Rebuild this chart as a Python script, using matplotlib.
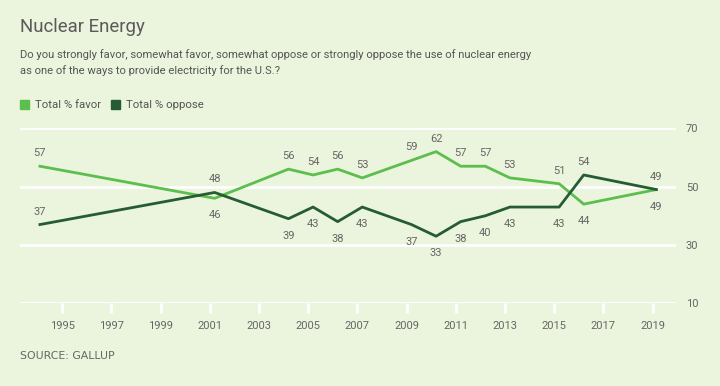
import matplotlib.pyplot as plt

plt.rcParams['font.family'] = ['Roboto', 'DejaVu Sans']

# survey dates (decimal years) and results
anos = [1994.1, 2001.2, 2004.2, 2005.2, 2006.2, 2007.2, 2009.2, 2010.2,
        2011.2, 2012.2, 2013.2, 2015.2, 2016.2, 2019.15]
favor = [57, 46, 56, 54, 56, 53, 59, 62, 57, 57, 53, 51, 44, 49]
oppose = [37, 48, 39, 43, 38, 43, 37, 33, 38, 40, 43, 43, 54, 49]
# True = rotulo acima do ponto
favor_acima = [True, False, True, True, True, True, True, True, True, True, True, True, False, False]
oppose_acima = [True, True, False, False, False, False, False, False, False, False, False, False, True, True]

xticks = list(range(1995, 2020, 2))
yticks = [10, 30, 50, 70]

fundo = '#ebf4dc'
cor_favor = '#5cbf4d'
cor_oppose = '#265c33'
cinza = '#666666'

fig = plt.figure(figsize=(7.2, 3.86), dpi=100, facecolor=fundo)
ax = fig.add_axes([20/720, 82.7/386, 656/720, 175/386], facecolor=fundo)

for y in yticks:
    ax.axhline(y, color='white', lw=2, zorder=1)

ax.plot(anos, favor, color=cor_favor, lw=2, zorder=3)
ax.plot(anos, oppose, color=cor_oppose, lw=2, zorder=3)

def rotulos(vals, acima):
    for x, v, a in zip(anos, vals, acima):
        dy = 13 if a else -17
        ax.annotate(str(v), (x, v), xytext=(0, dy*0.72), textcoords='offset points',
                    ha='center', va='center', fontsize=8, color=cinza)

rotulos(favor, favor_acima)
rotulos(oppose, oppose_acima)

ax.set_xlim(1993.29, 2019.95)
ax.set_ylim(10, 70)
ax.set_xticks(xticks)
ax.set_yticks(yticks)
ax.yaxis.tick_right()
ax.tick_params(axis='y', length=0, pad=7, labelsize=8, labelcolor=cinza)
ax.tick_params(axis='x', length=7, width=2, color='white', pad=6, labelsize=8, labelcolor=cinza)
for s in ax.spines.values():
    s.set_visible(False)

fig.text(20/720, 1 - 27/386, 'Nuclear Energy', fontsize=13.4, color='#5a5a5a',
         va='center')
fig.text(20/720, 1 - 55/386, 'Do you strongly favor, somewhat favor, somewhat oppose or strongly oppose the use of nuclear energy',
         fontsize=8.1, color='#555555', va='center')
fig.text(20/720, 1 - 71/386, 'as one of the ways to provide electricity for the U.S.?',
         fontsize=8.1, color='#555555', va='center')

# legenda
fig.patches.append(plt.Rectangle((20/720, 1 - 109/386), 9/720, 9/386, color=cor_favor,
                                 transform=fig.transFigure, figure=fig))
fig.text(35/720, 1 - 104.5/386, 'Total % favor', fontsize=8.2, color='#555555', va='center')
fig.patches.append(plt.Rectangle((111/720, 1 - 109/386), 9/720, 9/386, color=cor_oppose,
                                 transform=fig.transFigure, figure=fig))
fig.text(126/720, 1 - 104.5/386, 'Total % oppose', fontsize=8.2, color='#555555', va='center')

fig.text(20/720, 1 - 356/386, 'SOURCE: GALLUP', fontsize=7.8, color=cinza, va='center',
         family='DejaVu Sans')

fig.savefig('out.png', dpi=100, facecolor=fundo)
